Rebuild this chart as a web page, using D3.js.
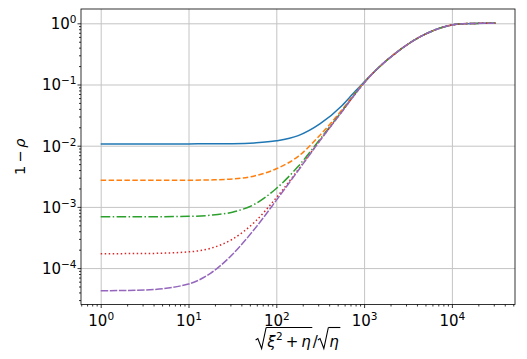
<!DOCTYPE html>
<html><head><meta charset="utf-8">
<script src="https://cdn.jsdelivr.net/npm/d3@7"></script>
<style>body{margin:0;background:#fff}svg{display:block}</style>
</head><body><svg id="c" width="527" height="359"></svg>
<script>
// ---- data ----
const xValues = [1, 3.162, 10, 17.78, 31.62, 56.23, 100, 177.8, 316.2, 562.3, 749.9, 1000,
                 1334, 1778, 2371, 3162, 4217, 5623, 7499, 10000, 13335, 17783, 23714, 31623];
const tailValues   = [0.166,0.243,0.339,0.457,0.589,0.72,0.845,0.94,0.982,0.995,0.999,1.0];
const seriesBlue   = [1.07e-2,1.07e-2,1.07e-2,1.074e-2,1.08e-2,1.11e-2,1.20e-2,1.46e-2,2.29e-2,4.55e-2,7.1e-2,0.11].concat(tailValues);
const seriesOrange = [2.72e-3,2.72e-3,2.73e-3,2.76e-3,2.86e-3,3.2e-3,4.2e-3,6.7e-3,1.5e-2,3.9e-2,6.6e-2,0.108].concat(tailValues);
const seriesGreen  = [6.9e-4,6.91e-4,7.0e-4,7.3e-4,8.2e-4,1.1e-3,2.0e-3,4.6e-3,1.29e-2,3.7e-2,6.4e-2,0.107].concat(tailValues);
const seriesRed    = [1.72e-4,1.73e-4,1.84e-4,2.1e-4,2.96e-4,5.6e-4,1.41e-3,4.07e-3,1.24e-2,3.65e-2,6.33e-2,0.106].concat(tailValues);
const seriesPurple = [4.27e-5,4.39e-5,5.5e-5,8.2e-5,1.67e-4,4.3e-4,1.28e-3,3.94e-3,1.22e-2,3.63e-2,6.31e-2,0.106].concat(tailValues);
const xTickExps = [0,1,2,3,4];
const yTickExps = [0,-1,-2,-3,-4];

const series = [
  {v: seriesBlue,   color:'#1f77b4', dash:null},
  {v: seriesOrange, color:'#ff7f0e', dash:'5.5,2.4'},
  {v: seriesGreen,  color:'#2ca02c', dash:'9.6,2.4,1.5,2.4'},
  {v: seriesRed,    color:'#d62728', dash:'1.5,2.5'},
  {v: seriesPurple, color:'#9467bd', dash:'7.5,1.6'}
];

const L=81, R=515, T=9, B=304.5;
const x = d3.scaleLog().domain([Math.pow(10,-0.2244), Math.pow(10,4.7187)]).range([L,R]);
const y = d3.scaleLog().domain([Math.pow(10,-4.595), Math.pow(10,0.2337)]).range([B,T]);

const svg = d3.select('#c');
const FONT = 'DejaVu Sans';
const FS = 15, SFS = 10.5;

function minors(scale){
  const [a,b] = scale.domain(); const out=[];
  for(let e=Math.floor(Math.log10(a)); e<=Math.ceil(Math.log10(b)); e++)
    for(let m=2;m<=9;m++){const v=m*Math.pow(10,e); if(v>=a && v<=b) out.push(v);}
  return out;
}
const xMaj = xTickExps.map(e=>Math.pow(10,e));
const yMaj = yTickExps.map(e=>Math.pow(10,e));

// grid
svg.append('g').attr('transform',`translate(0,${B})`)
  .call(d3.axisBottom(x).tickValues(xMaj).tickSize(-(B-T)).tickFormat(''))
  .call(g=>{g.select('.domain').remove(); g.selectAll('line').attr('stroke','#c4c4c4').attr('stroke-width',1);});
svg.append('g').attr('transform',`translate(${L},0)`)
  .call(d3.axisLeft(y).tickValues(yMaj).tickSize(-(R-L)).tickFormat(''))
  .call(g=>{g.select('.domain').remove(); g.selectAll('line').attr('stroke','#c4c4c4').attr('stroke-width',1);});

// lines
const line = d3.line().x((d,i)=>x(xValues[i])).y(d=>y(d)).curve(d3.curveMonotoneX);
svg.append('clipPath').attr('id','cp').append('rect').attr('x',L).attr('y',T).attr('width',R-L).attr('height',B-T);
series.forEach(s=>{
  svg.append('path').datum(s.v).attr('d',line).attr('fill','none')
    .attr('stroke',s.color).attr('stroke-width',1.5)
    .attr('stroke-dasharray',s.dash).attr('clip-path','url(#cp)');
});

// axes ticks
function styleAxis(g){g.select('.domain').remove(); g.selectAll('line').attr('stroke','#000').attr('stroke-width',0.8);}
svg.append('g').attr('transform',`translate(0,${B})`).call(d3.axisBottom(x).tickValues(minors(x)).tickSize(2).tickFormat('')).call(styleAxis);
svg.append('g').attr('transform',`translate(${L},0)`).call(d3.axisLeft(y).tickValues(minors(y)).tickSize(2).tickFormat('')).call(styleAxis);
const xa = svg.append('g').attr('transform',`translate(0,${B})`).call(d3.axisBottom(x).tickValues(xMaj).tickSize(3.5).tickFormat('')).call(styleAxis);
const ya = svg.append('g').attr('transform',`translate(${L},0)`).call(d3.axisLeft(y).tickValues(yMaj).tickSize(3.5).tickFormat('')).call(styleAxis);

function powLabel(t, exp){
  t.attr('font-family',FONT).attr('fill','#000');
  t.append('tspan').attr('font-size',FS).text('10');
  t.append('tspan').attr('font-size',SFS).attr('dy',-6).text(exp<0?'\u2212'+(-exp):String(exp));
}
xa.selectAll('.tick').each(function(d){
  const t=d3.select(this).append('text').attr('y',21).attr('text-anchor','middle');
  powLabel(t, Math.round(Math.log10(d)));
});
ya.selectAll('.tick').each(function(d){
  const t=d3.select(this).append('text').attr('x',-4.5).attr('y',5.5).attr('text-anchor','end');
  powLabel(t, Math.round(Math.log10(d)));
});

// spines
svg.append('rect').attr('x',L).attr('y',T).attr('width',R-L).attr('height',B-T)
  .attr('fill','none').attr('stroke','#000').attr('stroke-width',0.8);

// y label
svg.append('text').attr('transform',`translate(25,${(T+B)/2}) rotate(-90)`)
  .attr('text-anchor','middle').attr('font-family',FONT).attr('font-size',14.5)
  .call(t=>{t.append('tspan').text('1\u2009\u2212\u2009'); t.append('tspan').attr('font-style','italic').text('\u03c1');});

// x label: sqrt(xi^2 + eta)/sqrt(eta)
(function(){
  const g = svg.append('g');
  const base = 346.5, MFS = 15;
  let cx = 0;
  function piece(txt, opts={}){
    const t = g.append('text').attr('x',cx).attr('y',base + (opts.dy||0))
      .attr('font-family',FONT).attr('font-size',opts.fs||MFS)
      .attr('font-style',opts.it?'italic':'normal').text(txt);
    cx += t.node().getComputedTextLength();
  }
  function radical(){
    const x0=cx, top=base-19;
    g.append('path').attr('d',`M${x0},${base-6.5} L${x0+2.2},${base-8} L${x0+6},${base+2} L${x0+10.5},${top}`)
      .attr('fill','none').attr('stroke','#000').attr('stroke-width',1.1);
    cx += 11.5; return [x0+10.5, top];
  }
  const r1 = radical();
  piece('\u03be',{it:true}); cx += 0.5; piece('2',{fs:10.5,dy:-6.5}); piece('\u2009+\u2009'); piece('\u03b7',{it:true});
  const e1 = cx+1.5; cx += 2;
  g.append('line').attr('x1',r1[0]).attr('x2',e1).attr('y1',r1[1]).attr('y2',r1[1]).attr('stroke','#000').attr('stroke-width',1.1);
  piece('/');
  const r2 = radical();
  piece('\u03b7',{it:true});
  const e2 = cx+1.5;
  g.append('line').attr('x1',r2[0]).attr('x2',e2).attr('y1',r2[1]).attr('y2',r2[1]).attr('stroke','#000').attr('stroke-width',1.1);
  g.attr('transform',`translate(${(L+R)/2 - e2/2},0)`);
})();
</script></body></html>
